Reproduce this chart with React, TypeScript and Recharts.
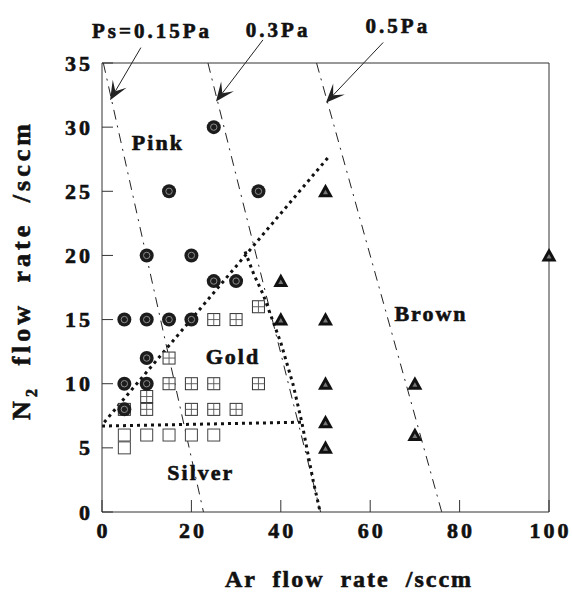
import React from 'react';
import { ComposedChart, XAxis, YAxis, Scatter, Line, ReferenceLine, ReferenceDot } from 'recharts';

const FONT = "'Liberation Serif', 'Times New Roman', serif";

const xTicks = [0, 20, 40, 60, 80, 100];
const yTicks = [0, 5, 10, 15, 20, 25, 30, 35];

const goldPoints = [
  { x: 25, y: 15 }, { x: 30, y: 15 }, { x: 35, y: 16 }, { x: 15, y: 12 },
  { x: 15, y: 10 }, { x: 20, y: 10 }, { x: 25, y: 10 }, { x: 35, y: 10 },
  { x: 10, y: 9 }, { x: 10, y: 8 }, { x: 20, y: 8 }, { x: 25, y: 8 }, { x: 30, y: 8 },
  { x: 5, y: 8 },
];
const pinkPoints = [
  { x: 5, y: 15 }, { x: 10, y: 15 }, { x: 15, y: 15 }, { x: 20, y: 15 },
  { x: 25, y: 18 }, { x: 30, y: 18 }, { x: 10, y: 20 }, { x: 20, y: 20 },
  { x: 15, y: 25 }, { x: 35, y: 25 }, { x: 25, y: 30 }, { x: 10, y: 12 },
  { x: 5, y: 10 }, { x: 10, y: 10 }, { x: 5, y: 8 },
];
const silverPoints = [
  { x: 5, y: 6 }, { x: 5, y: 5 }, { x: 10, y: 6 }, { x: 15, y: 6 }, { x: 20, y: 6 }, { x: 25, y: 6 },
];
const brownPoints = [
  { x: 40, y: 18 }, { x: 40, y: 15 }, { x: 50, y: 25 }, { x: 50, y: 15 }, { x: 50, y: 10 },
  { x: 50, y: 7 }, { x: 50, y: 5 }, { x: 70, y: 10 }, { x: 70, y: 6 }, { x: 100, y: 20 },
];

const pinkGoldBoundary = [{ x: 0.5, y: 7 }, { x: 50.5, y: 27.6 }];
const goldBrownBoundary = [
  { x: 32, y: 20.3 }, { x: 34, y: 18.5 }, { x: 36, y: 17 }, { x: 40, y: 13.2 },
  { x: 42.7, y: 10 }, { x: 44.7, y: 7 }, { x: 47.2, y: 2.5 }, { x: 48.8, y: 0 },
];
const goldSilverBoundary = [{ x: 0, y: 6.7 }, { x: 44.7, y: 7 }];

const iso015 = [{ x: 0.3, y: 35 }, { x: 22.7, y: 0 }];
const iso03 = [{ x: 23.7, y: 35 }, { x: 48.9, y: 0 }];
const iso05 = [{ x: 48, y: 35 }, { x: 76, y: 0 }];

const arrows = [
  { from: { x: 8.7, y: 36.2 }, to: { x: 1.8, y: 32.1 } },
  { from: { x: 36.0, y: 36.8 }, to: { x: 25.5, y: 32.0 } },
  { from: { x: 62.9, y: 36.6 }, to: { x: 50.1, y: 31.9 } },
];
const pressureLabels = [
  { text: 'Ps=0.15Pa', x: 11.2, y: 37.5 },
  { text: '0.3Pa', x: 39.4, y: 37.6 },
  { text: '0.5Pa', x: 66.2, y: 37.9 },
];
const regionLabels = [
  { text: 'Pink', x: 12.5, y: 28.8 },
  { text: 'Gold', x: 29.3, y: 12.1 },
  { text: 'Silver', x: 22.1, y: 3.1 },
  { text: 'Brown', x: 73.6, y: 15.5 },
];

const textStyle = {
  fontFamily: FONT,
  fontWeight: 'bold' as const,
  fill: '#111',
  stroke: '#111',
  strokeWidth: 0.6,
};

const PinkMark = (p: any) => {
  const { cx, cy } = p;
  if (cx == null || cy == null) return null;
  return (
    <g>
      <circle cx={cx} cy={cy} r={7} fill="#1c1c1c" />
      <circle cx={cx} cy={cy} r={3.2} fill="none" stroke="#8c8c8c" strokeWidth={1} />
    </g>
  );
};
const GoldMark = (p: any) => {
  const { cx, cy } = p;
  if (cx == null || cy == null) return null;
  return (
    <g>
      <rect x={cx - 6} y={cy - 6} width={12} height={12} fill="#fff" stroke="#333" strokeWidth={1} />
      <line x1={cx} y1={cy - 6} x2={cx} y2={cy + 6} stroke="#555" strokeWidth={0.9} />
      <line x1={cx - 6} y1={cy} x2={cx + 6} y2={cy} stroke="#555" strokeWidth={0.9} />
    </g>
  );
};
const SilverMark = (p: any) => {
  const { cx, cy } = p;
  if (cx == null || cy == null) return null;
  return <rect x={cx - 6} y={cy - 6} width={12} height={12} fill="#fff" stroke="#444" strokeWidth={1} />;
};
const BrownMark = (p: any) => {
  const { cx, cy } = p;
  if (cx == null || cy == null) return null;
  return (
    <g>
      <polygon points={`${cx},${cy - 7.5} ${cx - 7.5},${cy + 6} ${cx + 7.5},${cy + 6}`} fill="#111" />
      <polygon points={`${cx},${cy - 1.5} ${cx - 2.5},${cy + 3} ${cx + 2.5},${cy + 3}`} fill="#777" />
    </g>
  );
};

const ArrowShape = (p: any) => {
  const { x1, y1, x2, y2 } = p;
  if ([x1, y1, x2, y2].some((v) => v == null || isNaN(v))) return null;
  const dx = x2 - x1;
  const dy = y2 - y1;
  const len = Math.sqrt(dx * dx + dy * dy) || 1;
  const ux = dx / len;
  const uy = dy / len;
  const nx = -uy;
  const ny = ux;
  const L = 19;
  const W = 8;
  const b1x = x2 - ux * L + nx * W;
  const b1y = y2 - uy * L + ny * W;
  const b2x = x2 - ux * L - nx * W;
  const b2y = y2 - uy * L - ny * W;
  const mx = x2 - ux * L * 0.55;
  const my = y2 - uy * L * 0.55;
  return (
    <g>
      <line x1={x1} y1={y1} x2={mx} y2={my} stroke="#222" strokeWidth={1} />
      <polygon points={`${x2},${y2} ${b1x},${b1y} ${mx},${my} ${b2x},${b2y}`} fill="#222" />
    </g>
  );
};

const LeftTick = (p: any) => (
  <g>
    <line x1={p.x} y1={p.y} x2={p.x + 11} y2={p.y} stroke="#333" strokeWidth={1} />
    <text x={p.x - 9} y={p.y + 7.5} textAnchor="end" fontSize={22} letterSpacing={3} {...textStyle}>
      {p.payload.value}
    </text>
  </g>
);
const RightTick = (p: any) => (
  <line x1={p.x} y1={p.y} x2={p.x - 11} y2={p.y} stroke="#333" strokeWidth={1} />
);
const BottomTick = (p: any) => (
  <g>
    <line x1={p.x} y1={p.y} x2={p.x} y2={p.y - 12} stroke="#333" strokeWidth={1} />
    <text x={p.x + 1.5} y={p.y + 26} textAnchor="middle" fontSize={22} letterSpacing={3} {...textStyle}>
      {p.payload.value}
    </text>
  </g>
);
const TopTick = (p: any) => (
  <line x1={p.x} y1={p.y} x2={p.x} y2={p.y + 12} stroke="#333" strokeWidth={1} />
);

const XTitle = (p: any) => {
  const vb = p.viewBox || {};
  return (
    <text x={vb.x + 247} y={vb.y + 75} textAnchor="middle" fontSize={24} letterSpacing={2} wordSpacing={8} {...textStyle}>
      Ar flow rate /sccm
    </text>
  );
};
const YTitle = (p: any) => {
  const vb = p.viewBox || {};
  const cx = vb.x + 30;
  const cy = vb.y + 207;
  return (
    <text x={cx} y={cy} transform={`rotate(-90 ${cx} ${cy})`} textAnchor="middle" fontSize={26} letterSpacing={4} wordSpacing={9} {...textStyle}>
      N<tspan dy={7} fontSize={16}>2</tspan>
      <tspan dy={-7}> flow rate /sccm</tspan>
    </text>
  );
};

const LabelShape = (size: number, spacing: number, text: string, dy: number) => (p: any) => {
  if (p.cx == null || p.cy == null) return null;
  return (
    <text x={p.cx} y={p.cy + dy} textAnchor="middle" fontSize={size} letterSpacing={spacing} {...textStyle}>
      {text}
    </text>
  );
};

const dashDot = '10 6 2 6';
const dotted = '3 4';

export default function App() {
  return (
    <div style={{ position: 'absolute', left: 0, top: 0, background: '#fff' }}>
      <ComposedChart width={572} height={597} margin={{ top: 43, right: 3, bottom: 0, left: 0 }}>
        <XAxis
          dataKey="x"
          type="number"
          domain={[0, 100]}
          ticks={xTicks}
          height={85}
          tickSize={0}
          tickMargin={0}
          tickLine={false}
          tick={BottomTick}
          axisLine={{ stroke: '#333', strokeWidth: 1 }}
          interval={0}
          label={{ content: XTitle }}
        />
        <XAxis
          xAxisId="top"
          orientation="top"
          type="number"
          domain={[0, 100]}
          ticks={xTicks}
          height={20}
          tickSize={0}
          tickMargin={0}
          tickLine={false}
          tick={TopTick}
          axisLine={{ stroke: '#333', strokeWidth: 1 }}
          interval={0}
        />
        <YAxis
          dataKey="y"
          type="number"
          domain={[0, 35]}
          ticks={yTicks}
          width={102}
          tickSize={0}
          tickMargin={0}
          tickLine={false}
          tick={LeftTick}
          axisLine={{ stroke: '#333', strokeWidth: 1 }}
          interval={0}
          label={{ content: YTitle }}
        />
        <YAxis
          yAxisId="right"
          orientation="right"
          type="number"
          domain={[0, 35]}
          ticks={yTicks}
          width={20}
          tickSize={0}
          tickMargin={0}
          tickLine={false}
          tick={RightTick}
          axisLine={{ stroke: '#333', strokeWidth: 1 }}
          interval={0}
        />

        <Line data={iso015} dataKey="y" type="linear" stroke="#222" strokeWidth={1} strokeDasharray={dashDot} dot={false} isAnimationActive={false} />
        <Line data={iso03} dataKey="y" type="linear" stroke="#222" strokeWidth={1} strokeDasharray={dashDot} dot={false} isAnimationActive={false} />
        <Line data={iso05} dataKey="y" type="linear" stroke="#222" strokeWidth={1} strokeDasharray={dashDot} dot={false} isAnimationActive={false} />

        <Line data={pinkGoldBoundary} dataKey="y" type="linear" stroke="#111" strokeWidth={3} strokeDasharray={dotted} dot={false} isAnimationActive={false} />
        <Line data={goldBrownBoundary} dataKey="y" type="linear" stroke="#111" strokeWidth={3} strokeDasharray={dotted} dot={false} isAnimationActive={false} />
        <Line data={goldSilverBoundary} dataKey="y" type="linear" stroke="#111" strokeWidth={3} strokeDasharray={dotted} dot={false} isAnimationActive={false} />

        <Scatter data={silverPoints} dataKey="y" shape={SilverMark} isAnimationActive={false} />
        <Scatter data={goldPoints} dataKey="y" shape={GoldMark} isAnimationActive={false} />
        <Scatter data={pinkPoints} dataKey="y" shape={PinkMark} isAnimationActive={false} />
        <Scatter data={brownPoints} dataKey="y" shape={BrownMark} isAnimationActive={false} />

        {arrows.map((a, i) => (
          <ReferenceLine key={`arr${i}`} segment={[a.from, a.to]} ifOverflow="visible" shape={ArrowShape} />
        ))}
        {pressureLabels.map((l, i) => (
          <ReferenceDot key={`pl${i}`} x={l.x} y={l.y} r={0} ifOverflow="visible" shape={LabelShape(21, 3, l.text, 7)} />
        ))}
        {regionLabels.map((l, i) => (
          <ReferenceDot key={`rl${i}`} x={l.x} y={l.y} r={0} ifOverflow="visible" shape={LabelShape(22, 2, l.text, 7.5)} />
        ))}
      </ComposedChart>
    </div>
  );
}
